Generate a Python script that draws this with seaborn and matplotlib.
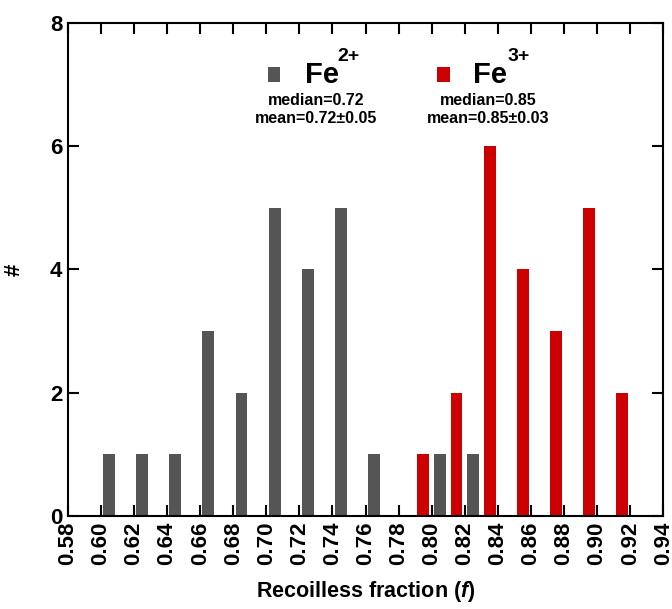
import matplotlib
matplotlib.use("Agg")
import matplotlib.pyplot as plt
import seaborn as sns
import pandas as pd
from matplotlib.patches import Rectangle

# Data
fe2_x = [0.605, 0.625, 0.645, 0.665, 0.685, 0.705, 0.725, 0.745, 0.765, 0.805, 0.825]
fe2_counts = [1, 1, 1, 3, 2, 5, 4, 5, 1, 1, 1]
fe3_x = [0.795, 0.815, 0.835, 0.855, 0.875, 0.895, 0.915]
fe3_counts = [1, 2, 6, 4, 3, 5, 2]
xticks = [0.58, 0.60, 0.62, 0.64, 0.66, 0.68, 0.70, 0.72, 0.74, 0.76, 0.78,
          0.80, 0.82, 0.84, 0.86, 0.88, 0.90, 0.92, 0.94]
yticks = [0, 2, 4, 6, 8]
legend_sup = ["2+", "3+"]
legend_median = ["median=0.72", "median=0.85"]
legend_mean = ["mean=0.72\u00b10.05", "mean=0.85\u00b10.03"]

gray = "#555555"
red = "#cc0000"

sns.set_theme(style="ticks")
plt.rcParams['font.family'] = ['Liberation Sans', 'DejaVu Sans']
plt.rcParams['font.weight'] = 'bold'
plt.rcParams['mathtext.fontset'] = 'custom'
plt.rcParams['mathtext.bfit'] = 'Liberation Sans:italic:bold'
plt.rcParams['mathtext.it'] = 'Liberation Sans:italic'
plt.rcParams['mathtext.rm'] = 'Liberation Sans'
plt.rcParams['mathtext.bf'] = 'Liberation Sans:bold'
for k in ['text.color', 'axes.labelcolor', 'xtick.color', 'ytick.color', 'axes.edgecolor']:
    plt.rcParams[k] = 'black'

fig = plt.figure(figsize=(6.72, 6.09), dpi=100)
ax = fig.add_axes([0.101, 0.153, 0.886, 0.809])

df2 = pd.DataFrame({"x": fe2_x, "n": fe2_counts})
df3 = pd.DataFrame({"x": fe3_x, "n": fe3_counts})
sns.barplot(data=df2, x="x", y="n", native_scale=True, color=gray,
            saturation=1, width=0.36, ax=ax, edgecolor="none")
sns.barplot(data=df3, x="x", y="n", native_scale=True, color=red,
            saturation=1, width=0.36, ax=ax, edgecolor="none")

ax.set_xlim(0.58, 0.94)
ax.set_ylim(0, 8)
ax.set_xticks(xticks)
ax.set_xticklabels([f"{t:.2f}" for t in xticks], rotation=90,
                   fontsize=16, fontweight='bold')
ax.set_yticks(yticks)
ax.set_yticklabels([str(t) for t in yticks], fontsize=16, fontweight='bold')
ax.tick_params(direction='in', length=8, width=1.5, top=True, right=True,
               pad=4, colors='black')
for s in ax.spines.values():
    s.set_linewidth(1.5)
    s.set_color('black')
    s.set_visible(True)

ax.set_xlabel("Recoilless fraction ($\\bfit{f}$)", fontsize=15.5, fontweight='bold',
              labelpad=10)
ax.set_ylabel("#", fontsize=16, fontweight='bold', labelpad=18)

# Legend-like annotations (axes fractions)
sq_x = [0.336, 0.620]
fe_x = [0.398, 0.681]
sup_x = [0.453, 0.739]
txt_x = [0.417, 0.706]
colors = [gray, red]
for i in range(2):
    ax.add_patch(Rectangle((sq_x[i], 0.880), 0.021, 0.030, transform=ax.transAxes,
                           facecolor=colors[i], edgecolor='none'))
    ax.text(fe_x[i], 0.878, "Fe", transform=ax.transAxes, fontsize=21,
            fontweight='bold', ha='left', va='baseline')
    ax.text(sup_x[i], 0.924, legend_sup[i], transform=ax.transAxes, fontsize=14,
            fontweight='bold', ha='left', va='baseline')
    ax.text(txt_x[i], 0.844, legend_median[i], transform=ax.transAxes, fontsize=11.5,
            fontweight='bold', ha='center', va='center')
    ax.text(txt_x[i], 0.807, legend_mean[i], transform=ax.transAxes, fontsize=11.5,
            fontweight='bold', ha='center', va='center')

fig.savefig("out.png", dpi=100)
